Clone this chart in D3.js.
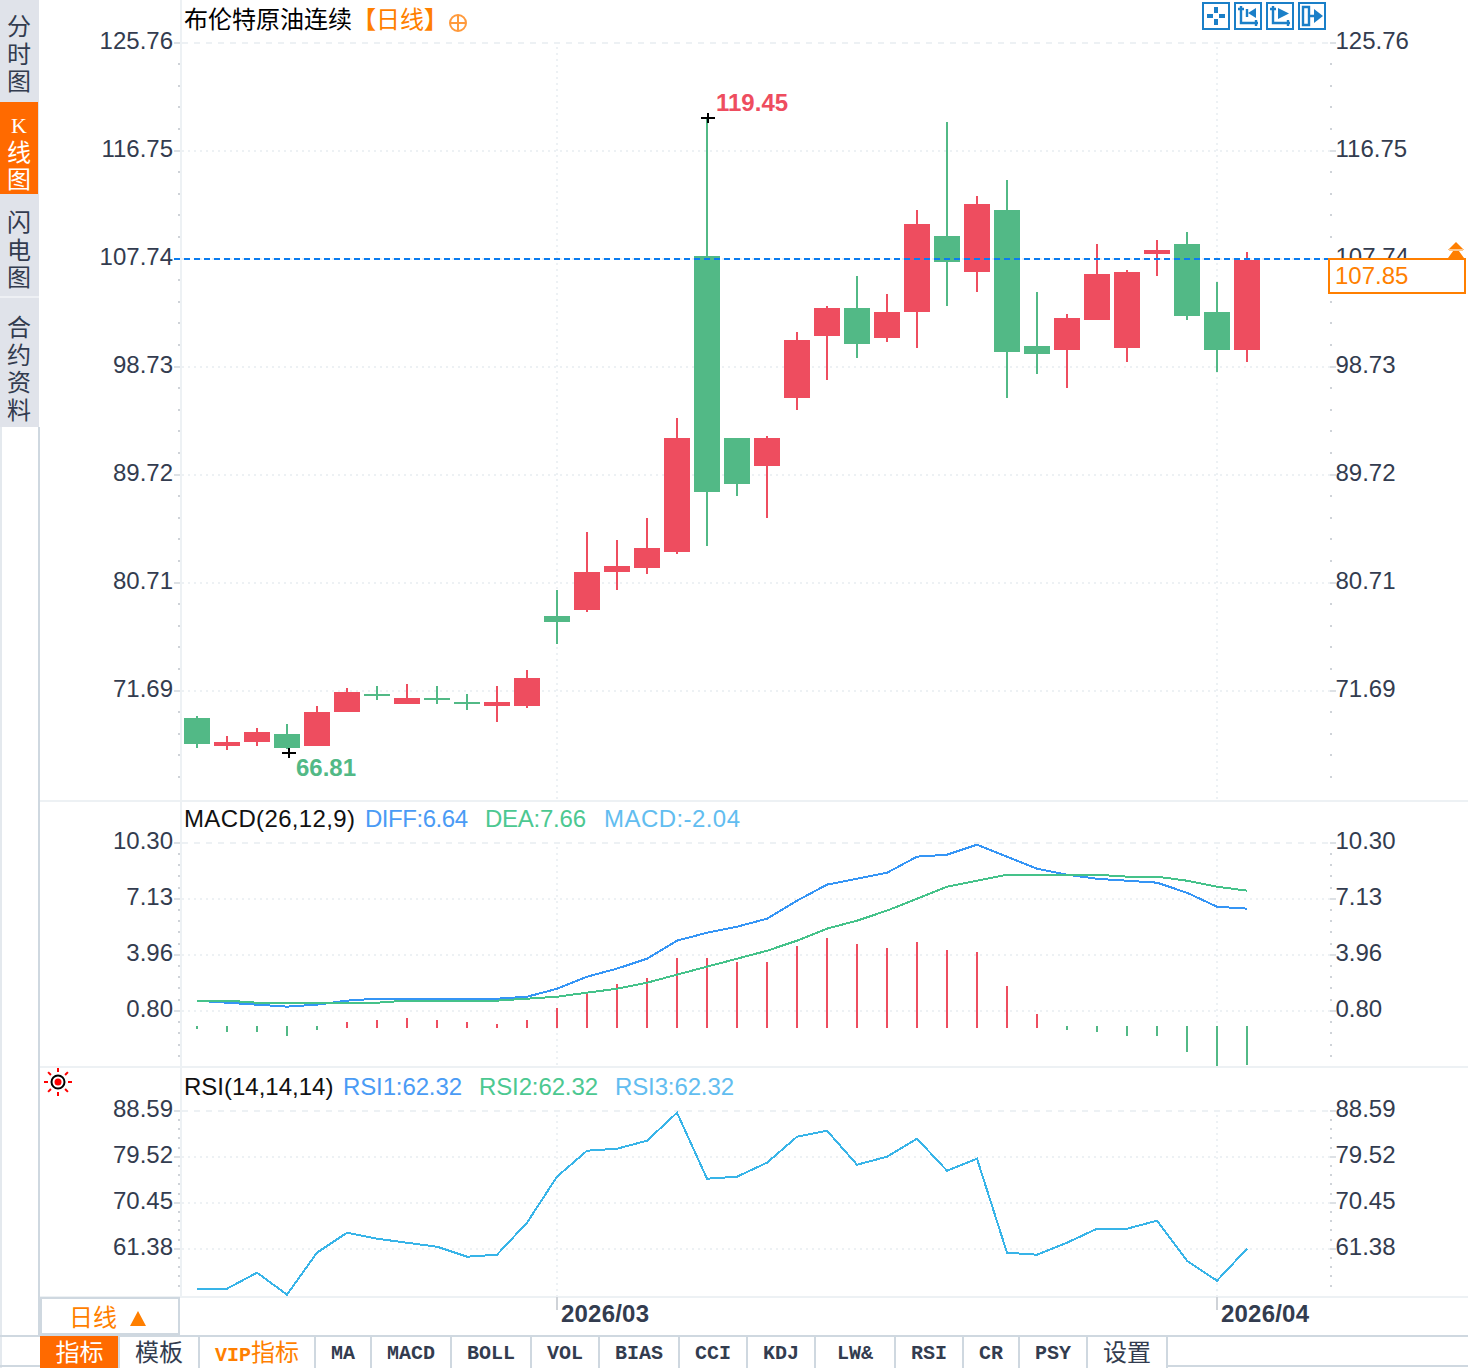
<!DOCTYPE html>
<html>
<head>
<meta charset="utf-8">
<style>
  html, body { margin: 0; padding: 0; background: #fff; }
  svg { display: block; }
  .num { font-family: "Liberation Sans", Arial, sans-serif; font-size: 24px; }
  .cjk { font-family: "Noto Sans CJK SC", sans-serif; font-size: 24px; }
  .mono { font-family: "Liberation Mono", monospace; font-size: 20px; font-weight: bold; }
  .serif { font-family: "Liberation Serif", serif; font-size: 22px; }
</style>
<script src="https://cdn.jsdelivr.net/npm/d3@7"></script>
</head>
<body>
<script>
// Brent continuous, daily candles
const dates = ['2026/02/12','2026/02/13','2026/02/16','2026/02/17','2026/02/18','2026/02/19','2026/02/20','2026/02/23','2026/02/24','2026/02/25','2026/02/26','2026/02/27',
  '2026/03/02','2026/03/03','2026/03/04','2026/03/05','2026/03/06','2026/03/09','2026/03/10','2026/03/11','2026/03/12','2026/03/13','2026/03/16','2026/03/17','2026/03/18','2026/03/19','2026/03/20','2026/03/23','2026/03/24','2026/03/25','2026/03/26','2026/03/27','2026/03/30','2026/03/31',
  '2026/04/01','2026/04/02'];
const open = [69.41,67.07,67.41,68.07,67.07,69.91,71.41,70.57,71.08,70.74,70.41,70.41,77.92,78.42,81.59,81.92,83.26,107.95,92.77,90.43,96.10,101.28,103.61,101.11,103.28,109.62,106.61,111.79,100.44,100.11,102.61,100.27,108.12,108.95,103.28,100.11];
const close = [67.24,67.41,68.24,66.91,69.91,71.58,71.24,71.08,70.91,70.57,70.74,72.74,77.42,81.59,82.09,83.59,92.77,88.26,88.93,92.77,100.94,103.61,100.61,103.28,110.62,107.45,112.29,99.94,99.77,102.78,106.45,106.61,108.45,102.94,100.11,107.62];
const high = [69.57,67.91,68.57,68.91,70.41,71.91,72.08,72.24,72.08,71.41,72.08,73.41,80.09,84.92,84.26,86.09,94.43,119.45,92.77,92.93,101.61,103.78,106.28,104.78,111.79,119.13,112.95,114.29,104.95,103.11,108.95,106.78,109.28,109.95,105.78,108.28];
const low = [66.91,66.74,67.07,66.81,67.07,69.91,70.91,70.57,70.57,70.07,69.07,70.24,75.58,78.25,80.09,81.42,83.09,83.76,87.93,86.09,95.10,97.60,99.44,100.77,100.27,103.78,104.95,96.10,98.11,96.94,102.61,99.11,106.28,102.61,98.27,99.11];

const diff = [1.37,1.25,1.14,1.03,1.14,1.37,1.48,1.48,1.48,1.48,1.48,1.59,2.04,2.72,3.18,3.74,4.76,5.21,5.55,6.00,7.02,7.93,8.26,8.60,9.51,9.62,10.19,9.51,8.83,8.49,8.26,8.15,8.04,7.47,6.68,6.57];
const dea = [1.37,1.37,1.25,1.25,1.25,1.25,1.25,1.37,1.37,1.37,1.37,1.48,1.59,1.82,2.04,2.38,2.84,3.29,3.74,4.19,4.76,5.44,5.89,6.46,7.13,7.81,8.15,8.49,8.49,8.49,8.49,8.38,8.38,8.15,7.81,7.59];
const macdBars = [-0.10,-0.27,-0.27,-0.48,-0.16,0.27,0.38,0.48,0.38,0.27,0.16,0.38,1.02,1.77,2.31,2.63,3.71,3.71,3.49,3.49,4.35,4.78,4.46,4.25,4.57,4.14,4.03,2.20,0.70,-0.16,-0.27,-0.48,-0.48,-1.34,-2.10,-2.04];
const rsi = [53.49,53.49,56.65,52.31,60.59,64.53,63.35,62.56,61.77,59.80,60.20,66.51,75.58,80.70,81.10,82.67,88.19,75.18,75.58,78.34,83.46,84.65,77.94,79.52,83.07,76.76,79.13,60.59,60.20,62.56,65.32,65.32,66.90,59.01,55.07,61.38];

const priceTicks = [125.76,116.75,107.74,98.73,89.72,80.71,71.69];
const macdTicks = [10.30,7.13,3.96,0.80];
const rsiTicks = [88.59,79.52,70.45,61.38];
const monthTicks = ['2026/03/02','2026/04/01'];
const monthLabels = ['2026/03','2026/04'];

const lastPrice = 107.85;
const refLine = 107.74;
const highLabel = 119.45;
const lowLabel = 66.81;

const sideTabs = ['分时图','K线图','闪电图','合约资料'];
const bottomTabs = ['指标','模板','VIP指标','MA','MACD','BOLL','VOL','BIAS','CCI','KDJ','LW&','RSI','CR','PSY','设置'];

const W = 1468, H = 1368;
const RED = '#ee4d5f', GREEN = '#52b986', ORANGE = '#ff7f00', INK = '#333c4f';
const GRID = '#edf1f4', RULE = '#cfd8e0', TICK = '#cfd3d8', BLUE = '#1a7fc8';
const AX_L = 180, AX_R = 1330;

const svg = d3.select('body').append('svg')
  .attr('width', W).attr('height', H).attr('viewBox', `0 0 ${W} ${H}`);
svg.append('rect').attr('width', W).attr('height', H).attr('fill', '#fff');

const x = d3.scalePoint().domain(dates).range([197, 1247]);
const yPrice = d3.scaleLinear().domain([125.76, 71.69]).range([42.7, 690.7]);
const yMacd = d3.scaleLinear().domain([10.30, 0.80]).range([842.7, 1010.7]);
const yBars = d3.scaleLinear().domain([0, -2.04]).range([1027, 1065]);
const yRsi = d3.scaleLinear().domain([88.59, 61.38]).range([1110.7, 1248.7]);

// horizontal panel rules, drawn first so the marks sit on top
const rules = svg.append('g').attr('stroke', GRID).attr('stroke-width', 2).attr('shape-rendering', 'crispEdges');
[801, 1067, 1297].forEach(yy => rules.append('line').attr('x1', 40).attr('x2', W).attr('y1', yy).attr('y2', yy));
rules.append('line').attr('x1', AX_L + 1).attr('x2', AX_L + 1).attr('y1', 0).attr('y2', 1297);

function drawPanel(y, ticks, bottom) {
  const g = svg.append('g');
  const grid = g.append('g').attr('stroke', GRID).attr('stroke-width', 2).attr('shape-rendering', 'crispEdges');
  ticks.forEach((t, i) => {
    grid.append('line').attr('x1', AX_L + 2).attr('x2', AX_R)
      .attr('y1', Math.round(y(t))).attr('y2', Math.round(y(t)))
      .attr('stroke-dasharray', i === 0 ? '6 6' : '2 4');
  });
  monthTicks.forEach(m => {
    grid.append('line').attr('x1', x(m)).attr('x2', x(m))
      .attr('y1', Math.round(y(ticks[0])) + 4).attr('y2', bottom)
      .attr('stroke-dasharray', '2 4');
  });

  // minor ticks, five steps to a labelled tick
  const step = Math.abs(y(ticks[1]) - y(ticks[0])) / 5;
  const minor = d3.range(Math.round((bottom - y(ticks[0])) / step))
    .map(k => y(ticks[0]) + k * step)
    .filter((v, k) => k % 5 !== 0 && v < bottom - 4);
  const dots = g.append('g').attr('fill', TICK).attr('shape-rendering', 'crispEdges');
  minor.forEach(v => {
    dots.append('rect').attr('x', AX_L - 2).attr('y', Math.round(v) - 1).attr('width', 2).attr('height', 2);
    dots.append('rect').attr('x', AX_R).attr('y', Math.round(v) - 1).attr('width', 2).attr('height', 2);
  });

  const fmt = d3.format('.2f');
  const left = d3.axisLeft(y).tickValues(ticks).tickFormat(fmt).tickSize(6).tickPadding(1).offset(0);
  const right = d3.axisRight(y).tickValues(ticks).tickFormat(fmt).tickSize(6).tickPadding(0).offset(0);
  [[left, AX_L, -7], [right, AX_R, 5.5]].forEach(([ax, px, tx]) => {
    const a = g.append('g').attr('transform', `translate(${px},0)`).call(ax);
    a.select('.domain').remove();
    a.selectAll('line').attr('stroke', '#dde1e5').attr('stroke-width', 2).attr('shape-rendering', 'crispEdges');
    a.selectAll('text').attr('class', 'num').attr('fill', INK).attr('x', tx).attr('dy', '.27em');
    a.attr('font-family', null).attr('font-size', null);
  });
}

drawPanel(yPrice, priceTicks, 800);
drawPanel(yMacd, macdTicks, 1066);
drawPanel(yRsi, rsiTicks, 1296);

// candles
const rows = dates.map((d, i) => ({ d, o: open[i], c: close[i], h: high[i], l: low[i] }));
const colour = r => (r.c >= r.o ? RED : GREEN);
const candles = svg.append('g').attr('shape-rendering', 'crispEdges');
candles.selectAll('.wick').data(rows).join('rect').attr('class', 'wick')
  .attr('x', r => x(r.d) - 1).attr('width', 2)
  .attr('y', r => yPrice(r.h)).attr('height', r => yPrice(r.l) - yPrice(r.h))
  .attr('fill', colour);
candles.selectAll('.body').data(rows).join('rect').attr('class', 'body')
  .attr('x', r => x(r.d) - 13).attr('width', 26)
  .attr('y', r => yPrice(Math.max(r.o, r.c)))
  .attr('height', r => Math.max(2, Math.abs(yPrice(r.o) - yPrice(r.c))))
  .attr('fill', colour);

// high and low markers
function cross(cx, cy) {
  const g = svg.append('g').attr('fill', '#000').attr('shape-rendering', 'crispEdges');
  g.append('rect').attr('x', cx - 7).attr('y', cy - 1).attr('width', 14).attr('height', 2);
  g.append('rect').attr('x', cx - 1).attr('y', cy - 5).attr('width', 2).attr('height', 10);
}
const hiIdx = high.indexOf(highLabel), loIdx = low.indexOf(lowLabel);
cross(x(dates[hiIdx]) + 1, yPrice(highLabel));
cross(x(dates[loIdx]) + 2, yPrice(lowLabel) + 4);
svg.append('text').attr('class', 'num').attr('x', x(dates[hiIdx]) + 9).attr('y', yPrice(highLabel) - 7)
  .attr('fill', RED).attr('font-weight', 'bold').text(highLabel.toFixed(2));
svg.append('text').attr('class', 'num').attr('x', x(dates[loIdx]) + 9).attr('y', yPrice(lowLabel) + 27)
  .attr('fill', GREEN).attr('font-weight', 'bold').text(lowLabel.toFixed(2));

// last price line and box
svg.append('line').attr('x1', 174).attr('x2', AX_R)
  .attr('y1', Math.round(yPrice(refLine))).attr('y2', Math.round(yPrice(refLine)))
  .attr('stroke', '#0a7cf0').attr('stroke-width', 2).attr('stroke-dasharray', '6 4')
  .attr('shape-rendering', 'crispEdges');
svg.append('rect').attr('x', 1329).attr('y', 259).attr('width', 136).attr('height', 34)
  .attr('fill', '#fff').attr('stroke', ORANGE).attr('stroke-width', 2).attr('shape-rendering', 'crispEdges');
svg.append('text').attr('class', 'num').attr('x', 1335).attr('y', 284).attr('fill', ORANGE).text(lastPrice.toFixed(2));
svg.append('path').attr('fill', ORANGE)
  .attr('d', 'M1456 242 L1464 250 H1448 Z M1456 247 L1464 258 H1448 Z');
svg.append('rect').attr('x', 1449).attr('y', 249).attr('width', 14).attr('height', 2).attr('fill', '#ffc98f');

// titles
function label(px, py, txt, fill, len) {
  const t = svg.append('text').attr('class', 'num').attr('x', px).attr('y', py).attr('fill', fill).text(txt);
  if (len) t.attr('textLength', len).attr('lengthAdjust', 'spacing');
  return t;
}
label(184, 28, '布伦特原油连续', '#000').attr('class', 'cjk');
svg.append('text').attr('class', 'cjk').attr('x', 352).attr('y', 28).attr('fill', ORANGE)
  .html('<tspan font-weight="bold">【</tspan>日线<tspan font-weight="bold">】</tspan>');
const plus = svg.append('g').attr('fill', 'none').attr('stroke', '#ff9a3c').attr('stroke-width', 2);
plus.append('circle').attr('cx', 458).attr('cy', 23).attr('r', 8);
plus.append('path').attr('d', 'M450 23 H466 M458 15 V31');

label(184, 827, 'MACD(26,12,9)', '#111', 171);
label(365, 827, `DIFF:${(6.64).toFixed(2)}`, '#4a9bf5', 103);
label(485, 827, `DEA:${(7.66).toFixed(2)}`, '#4cc891', 101);
label(604, 827, `MACD:${(-2.04).toFixed(2)}`, '#62bdf0', 136);
label(184, 1095, 'RSI(14,14,14)', '#111');
label(343, 1095, `RSI1:${(62.32).toFixed(2)}`, '#4a9bf5', 119);
label(479, 1095, `RSI2:${(62.32).toFixed(2)}`, '#4cc891', 119);
label(615, 1095, `RSI3:${(62.32).toFixed(2)}`, '#62bdf0', 119);

// MACD
const macdG = svg.append('g').attr('shape-rendering', 'crispEdges');
macdG.selectAll('rect').data(macdBars).join('rect')
  .attr('x', (v, i) => x(dates[i]) - 1).attr('width', 2)
  .attr('y', v => (v >= 0 ? yBars(v) : yBars(0) - 1))
  .attr('height', v => Math.abs(yBars(v) - yBars(0)) + 1)
  .attr('fill', v => (v >= 0 ? RED : GREEN));
const macdLine = d3.line().x((v, i) => x(dates[i])).y(v => yMacd(v));
macdG.append('path').datum(diff).attr('d', macdLine).attr('fill', 'none').attr('stroke', '#3595f5').attr('stroke-width', 2);
macdG.append('path').datum(dea).attr('d', macdLine).attr('fill', 'none').attr('stroke', '#45c28a').attr('stroke-width', 2);

// RSI
svg.append('path').datum(rsi)
  .attr('d', d3.line().x((v, i) => x(dates[i])).y(v => yRsi(v)))
  .attr('fill', 'none').attr('stroke', '#38b4e8').attr('stroke-width', 2).attr('shape-rendering', 'crispEdges');

// sun icon beside the RSI title
const sun = svg.append('g').attr('transform', 'translate(58,1082)');
sun.append('circle').attr('r', 6.5).attr('fill', 'none').attr('stroke', '#000').attr('stroke-width', 2);
sun.append('circle').attr('r', 3.5).attr('fill', '#f00');
d3.range(8).forEach(k => {
  const a = k * Math.PI / 4;
  sun.append('line').attr('x1', 10 * Math.cos(a)).attr('y1', 10 * Math.sin(a))
    .attr('x2', 14 * Math.cos(a)).attr('y2', 14 * Math.sin(a))
    .attr('stroke', '#f00').attr('stroke-width', 2);
});

// date axis
const dateAxis = d3.axisBottom(x).tickValues(monthTicks)
  .tickFormat(d => monthLabels[monthTicks.indexOf(d)]).tickSize(13).tickPadding(0).offset(0);
const xa = svg.append('g').attr('transform', 'translate(0,1297)').call(dateAxis);
xa.select('.domain').remove();
xa.selectAll('line').attr('stroke', TICK).attr('stroke-width', 2).attr('shape-rendering', 'crispEdges');
xa.selectAll('text').attr('class', 'num').attr('fill', INK).attr('font-weight', 'bold')
  .attr('text-anchor', 'start').attr('x', 4).attr('y', 25).attr('dy', 0)
  .attr('textLength', 88).attr('lengthAdjust', 'spacing');
xa.attr('font-family', null).attr('font-size', null);

// toolbar icons, top right
const toolStrokes = [
  'M14 5 V11 M14 17 V23 M5 14 H11 M17 14 H23',
  'M7 4 V21 H24 M4 7 H10 M22 18 V24 M13 7 V15',
  'M7 4 V21 H24 M4 7 H10 M22 18 V24',
  'M5 5 H11 V23 H5 Z M11 14 H17'
];
const toolFills = [
  '',
  'M22 6 L14 11 L22 16 Z',
  'M12 6 V17 L23 11.5 Z',
  'M16 7 L25 14 L16 21 Z'
];
toolStrokes.forEach((d, i) => {
  const g = svg.append('g').attr('transform', `translate(${1202 + i * 32},2)`);
  g.append('rect').attr('x', 1).attr('y', 1).attr('width', 26).attr('height', 26)
    .attr('fill', '#fff').attr('stroke', BLUE).attr('stroke-width', 2).attr('shape-rendering', 'crispEdges');
  g.append('path').attr('d', d).attr('fill', 'none').attr('stroke', BLUE).attr('stroke-width', i === 0 ? 4 : 2.4);
  g.append('path').attr('d', toolFills[i]).attr('fill', BLUE);
});

// left side tabs
svg.append('rect').attr('x', 0).attr('y', 0).attr('width', 39).attr('height', 427).attr('fill', '#e0e3ea');
svg.append('rect').attr('x', 0).attr('y', 296).attr('width', 39).attr('height', 2).attr('fill', '#eef0f4');
svg.append('rect').attr('x', 0).attr('y', 102).attr('width', 38).attr('height', 92).attr('fill', '#ff6a00');
const sideStart = [35, 133, 231, 336];
sideTabs.forEach((name, i) => {
  const t = svg.append('text').attr('class', 'cjk').attr('y', sideStart[i])
    .attr('text-anchor', 'middle').attr('fill', i === 1 ? '#fff' : INK);
  Array.from(name).forEach((ch, k) => {
    t.append('tspan').attr('x', 19).attr('dy', k === 0 ? 0 : 27.7)
      .attr('class', ch === 'K' ? 'serif' : null).text(ch);
  });
});
svg.append('line').attr('x1', 39).attr('x2', 39).attr('y1', 427).attr('y2', 1336)
  .attr('stroke', RULE).attr('stroke-width', 2).attr('shape-rendering', 'crispEdges');
svg.append('line').attr('x1', 1).attr('x2', 1).attr('y1', 427).attr('y2', H)
  .attr('stroke', '#e4e9ee').attr('stroke-width', 2).attr('shape-rendering', 'crispEdges');

// period selector
svg.append('rect').attr('x', 41).attr('y', 1298).attr('width', 138).attr('height', 36)
  .attr('fill', '#fff').attr('stroke', RULE).attr('stroke-width', 2).attr('shape-rendering', 'crispEdges');
label(69, 1326, '日线', ORANGE).attr('class', 'cjk');
svg.append('path').attr('fill', ORANGE).attr('d', 'M138 1311 L146 1326 L130 1326 Z');

// bottom tabs
const tabEdges = [40, 119, 199, 315, 371, 451, 531, 599, 679, 747, 815, 895, 963, 1019, 1087, 1167];
const bar = svg.append('g').attr('shape-rendering', 'crispEdges');
bar.append('line').attr('x1', 0).attr('x2', W).attr('y1', 1336).attr('y2', 1336).attr('stroke', RULE).attr('stroke-width', 2);
bar.append('line').attr('x1', 1167).attr('x2', W).attr('y1', 1366).attr('y2', 1366).attr('stroke', RULE).attr('stroke-width', 2);
bar.append('line').attr('x1', 0).attr('x2', 40).attr('y1', 1366).attr('y2', 1366).attr('stroke', RULE).attr('stroke-width', 2);
bar.append('rect').attr('x', 40).attr('y', 1336).attr('width', 78).attr('height', 32).attr('fill', '#ff6a00');
tabEdges.slice(1).forEach(e => bar.append('line').attr('x1', e).attr('x2', e).attr('y1', 1336).attr('y2', H)
  .attr('stroke', RULE).attr('stroke-width', 2));
bottomTabs.forEach((name, i) => {
  const cx = (tabEdges[i] + tabEdges[i + 1]) / 2;
  const isLatin = /^[A-Z&]+$/.test(name);
  const fill = i === 0 ? '#fff' : (i === 2 ? ORANGE : INK);
  if (name === 'VIP指标') {
    svg.append('text').attr('x', cx).attr('y', 1361).attr('text-anchor', 'middle').attr('fill', fill)
      .html('<tspan class="mono">VIP</tspan><tspan class="cjk">指标</tspan>');
  } else {
    svg.append('text').attr('class', isLatin ? 'mono' : 'cjk').attr('x', cx).attr('y', isLatin ? 1359 : 1361)
      .attr('text-anchor', 'middle').attr('fill', fill).text(name);
  }
});
</script>
</body>
</html>
